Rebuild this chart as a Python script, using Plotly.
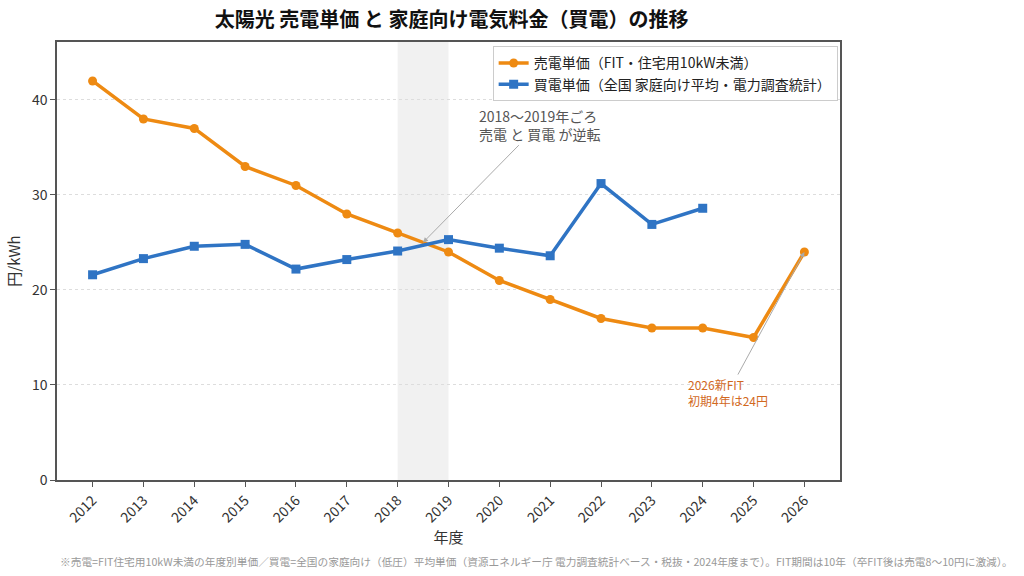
import plotly.graph_objects as go

years = list(range(2012, 2027))
sell_price = [42, 38, 37, 33, 31, 28, 26, 24, 21, 19, 17, 16, 16, 15, 24]
buy_years = list(range(2012, 2025))
buy_price = [21.6, 23.3, 24.6, 24.8, 22.2, 23.2, 24.1, 25.3, 24.4, 23.6, 31.2, 26.9, 28.6]

FONT = "Noto Sans CJK JP"
ORANGE = "#EE8A12"
BLUE = "#2F74C4"

fig = go.Figure()
fig.add_vrect(x0=2018, x1=2019, fillcolor="rgba(200,200,200,0.25)", line_width=0, layer="below")
fig.add_trace(go.Scatter(x=years, y=sell_price, mode="lines+markers",
                         name="売電単価（FIT・住宅用10kW未満）",
                         line=dict(color=ORANGE, width=3.5),
                         marker=dict(symbol="circle", size=9, color=ORANGE)))
fig.add_trace(go.Scatter(x=buy_years, y=buy_price, mode="lines+markers",
                         name="買電単価（全国 家庭向け平均・電力調査統計）",
                         line=dict(color=BLUE, width=3.5),
                         marker=dict(symbol="square", size=9, color=BLUE)))

fig.add_annotation(x=2018.5, y=25.0, ax=2020.78, ay=37.4, axref="x", ayref="y",
                   text="2018〜2019年ごろ<br>売電 と 買電 が逆転", showarrow=True,
                   arrowhead=2, arrowsize=1, arrowwidth=1, arrowcolor="#AAAAAA",
                   font=dict(size=14, color="#555555", family=FONT), align="left")
fig.add_annotation(x=2026, y=24, ax=2024.5, ay=9.2, axref="x", ayref="y",
                   text="2026新FIT<br>初期4年は24円", showarrow=True,
                   arrowhead=2, arrowsize=1, arrowwidth=1, arrowcolor="#AAAAAA",
                   font=dict(size=12, color="#D2691E", family=FONT), align="left")

fig.add_annotation(x=0.612, y=-0.185, xref="paper", yref="paper", xanchor="center", yanchor="middle",
                   showarrow=False,
                   text="※売電=FIT住宅用10kW未満の年度別単価／買電=全国の家庭向け（低圧）平均単価（資源エネルギー庁 電力調査統計ベース・税抜・2024年度まで）。FIT期間は10年（卒FIT後は売電8〜10円に激減）。",
                   font=dict(size=10.7, color="#999999", family=FONT))

fig.update_layout(
    width=1024, height=576,
    margin=dict(l=57, r=184, t=42, b=96),
    paper_bgcolor="white", plot_bgcolor="white",
    title=dict(text="<b>太陽光 売電単価 と 家庭向け電気料金（買電）の推移</b>", x=0.441, xanchor="center",
               y=0.965, yanchor="middle", font=dict(size=20, color="#111111", family=FONT)),
    font=dict(family=FONT, color="#333333", size=14),
    legend=dict(x=0.997, y=0.99, xanchor="right", yanchor="top", bgcolor="white",
                bordercolor="#CCCCCC", borderwidth=1, font=dict(size=14, color="#222222")),
    xaxis=dict(range=[2011.3, 2026.7], tickmode="array", tickvals=years,
               ticktext=[str(y) for y in years], tickangle=-45, showgrid=False,
               ticks="outside", ticklen=5, tickcolor="#555555",
               showline=True, linecolor="#555555", linewidth=1.5, mirror=True,
               title=dict(text="年度", standoff=4, font=dict(size=15)), zeroline=False),
    yaxis=dict(range=[0, 46.1], tickvals=[0, 10, 20, 30, 40], showgrid=True,
               gridcolor="#DDDDDD", griddash="dot", gridwidth=1,
               ticks="outside", ticklen=5, tickcolor="#555555",
               showline=True, linecolor="#555555", linewidth=1.5, mirror=True,
               title=dict(text="円/kWh", standoff=8, font=dict(size=15)), zeroline=False),
)

fig.write_html("out.html")
